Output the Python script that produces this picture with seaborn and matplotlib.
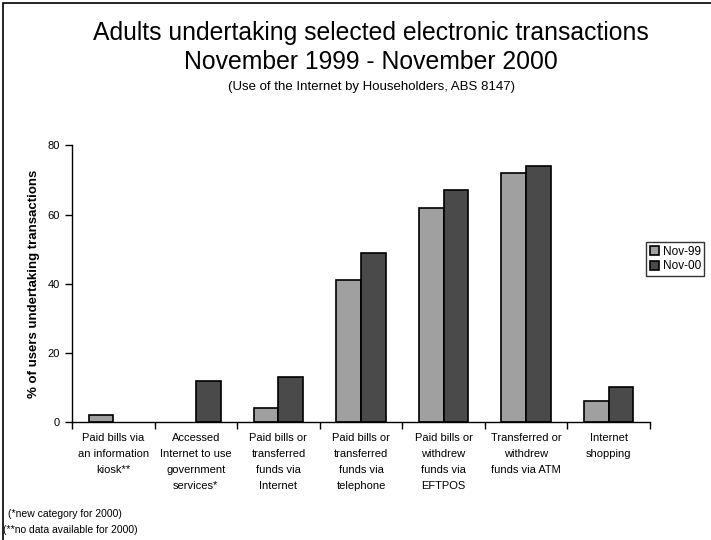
import matplotlib
matplotlib.use("Agg")
import matplotlib.pyplot as plt
import matplotlib.patches as mpatches
import seaborn as sns
import pandas as pd
import numpy as np

categories = [
    "Paid bills via\nan information\nkiosk**",
    "Accessed\nInternet to use\ngovernment\nservices*",
    "Paid bills or\ntransferred\nfunds via\nInternet",
    "Paid bills or\ntransferred\nfunds via\ntelephone",
    "Paid bills or\nwithdrew\nfunds via\nEFTPOS",
    "Transferred or\nwithdrew\nfunds via ATM",
    "Internet\nshopping",
]
series = ["Nov-99", "Nov-00"]
# NaN: no figure collected for that period
nov99 = [2, np.nan, 4, 41, 62, 72, 6]
nov00 = [np.nan, 12, 13, 49, 67, 74, 10]
yticks = [0, 20, 40, 60, 80]

df = pd.DataFrame({
    "category": categories * 2,
    "period": [series[0]] * len(categories) + [series[1]] * len(categories),
    "value": nov99 + nov00,
})

sns.set_style("white")
plt.rcParams["font.family"] = ["Liberation Sans", "DejaVu Sans"]
plt.rcParams.update({
    "text.color": "black",
    "axes.labelcolor": "black",
    "xtick.color": "black",
    "ytick.color": "black",
})

W, H = 711, 540
fig = plt.figure(figsize=(W / 100, H / 100), dpi=100)
ax = fig.add_axes([72 / W, 1 - 422 / H, 578 / W, 276.6 / H])

sns.barplot(
    data=df, x="category", y="value", hue="period", hue_order=series,
    order=categories, palette=["#a0a0a0", "#4a4a4a"], width=0.6, ax=ax,
    edgecolor="black", linewidth=1.2, saturation=1, errorbar=None,
)

ax.set_xlim(-0.5, len(categories) - 0.5)
ax.set_ylim(0, 80)
ax.set_yticks(yticks)
ax.set_yticklabels([str(v) for v in yticks], fontsize=8)
ax.set_xticks(list(range(len(categories))))
ax.set_xticklabels(categories, fontsize=8, linespacing=1.75, va="top")
ax.tick_params(axis="x", length=0, pad=8)
ax.tick_params(axis="y", direction="out", length=5, width=1, pad=4, left=True)

# tick marks at the category boundaries along the x axis
ax.set_xticks([i - 0.5 for i in range(len(categories) + 1)], minor=True)
ax.tick_params(axis="x", which="minor", direction="out", length=5, width=1, bottom=True)

for side in ["top", "right"]:
    ax.spines[side].set_visible(False)
for side in ["left", "bottom"]:
    ax.spines[side].set_color("black")
    ax.spines[side].set_linewidth(1)

ax.set_xlabel("")
ax.set_ylabel("% of users undertaking transactions", fontsize=9.5,
              fontweight="bold", labelpad=5)

leg = ax.legend(
    loc="center left", bbox_to_anchor=(646 / W, 1 - 259 / H), bbox_transform=fig.transFigure,
    fontsize=8.5, frameon=True, fancybox=False, edgecolor="black",
    handlelength=0.8, handleheight=0.8, handletextpad=0.3, borderpad=0.3,
    labelspacing=0.25, borderaxespad=0,
)
leg.get_frame().set_linewidth(1)

fig.text(371 / W, 1 - 33 / H, "Adults undertaking selected electronic transactions",
         ha="center", va="center", fontsize=17.8)
fig.text(371 / W, 1 - 62 / H, "November 1999 - November 2000",
         ha="center", va="center", fontsize=17.8)
fig.text(371 / W, 1 - 87 / H, "(Use of the Internet by Householders, ABS 8147)",
         ha="center", va="center", fontsize=9.5)

fig.text(8 / W, 1 - 514 / H, "(*new category for 2000)", ha="left", va="center", fontsize=7.5)
fig.text(3 / W, 1 - 530 / H, "(**no data available for 2000)", ha="left", va="center", fontsize=7.5)

# chart area border: visible on the left and top edges
fig.patches.append(mpatches.Rectangle(
    (3 / W, -0.1), 1.2, 1 - 3 / H + 0.1, transform=fig.transFigure,
    fill=False, edgecolor="black", linewidth=1.2,
))

fig.savefig("out.png", dpi=100)
